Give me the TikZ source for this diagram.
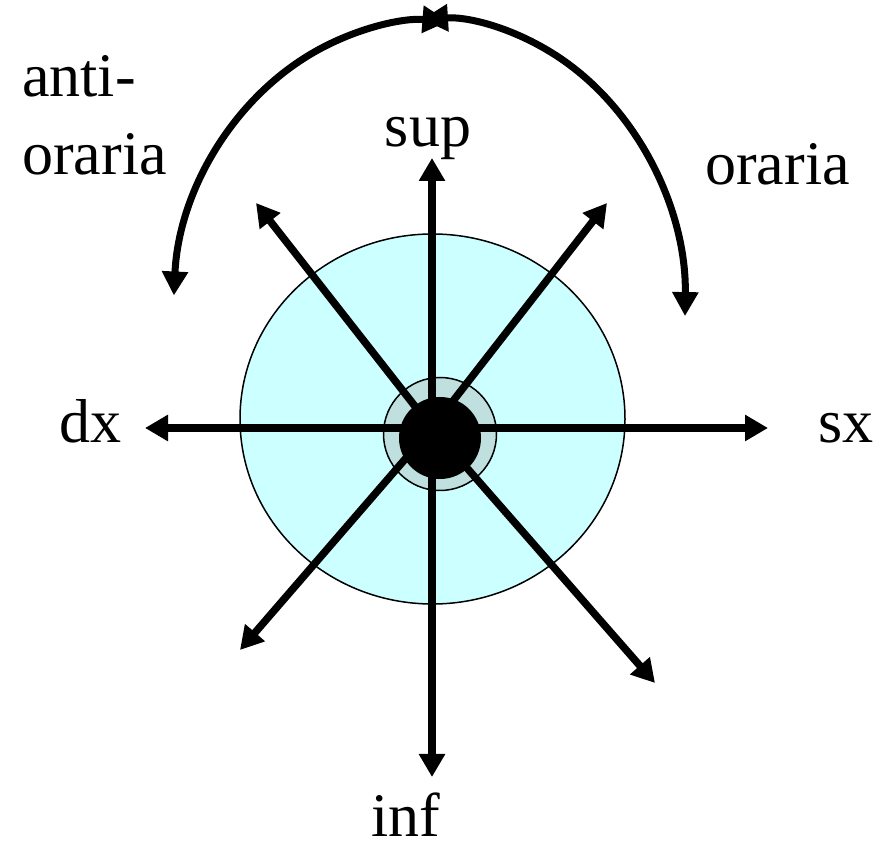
\documentclass[tikz,border=0pt]{standalone}
\usepackage{fontspec}
\setmainfont{Liberation Serif}
\usetikzlibrary{arrows.meta}
\definecolor{discfill}{HTML}{CCFFFF}
\definecolor{ringfill}{HTML}{C0E0E0}

\begin{document}
\begin{tikzpicture}[
    x=1pt, y=1pt,
    dir/.style={line width=7.5pt, -{Triangle[length=23pt,width=25pt]}},
    turn/.style={line width=7pt, {Triangle[length=24pt,width=25pt]}-{Triangle[length=26pt,width=26pt]}},
    lbl/.style={font=\fontsize{62}{76}\selectfont, inner sep=0pt}
]
\useasboundingbox (0,0) rectangle (875,848);

% Disc
\draw[line width=1.5pt, fill=discfill] (432.5,429) ellipse [x radius=192.5, y radius=185];
\draw[line width=1.5pt, fill=ringfill] (440,414) circle [radius=56.5];

% Directions
\coordinate (c) at (432,420);
\coordinate (up) at (432,690);
\coordinate (down) at (432,71);
\coordinate (left) at (145,420);
\coordinate (right) at (768,420);
\coordinate (ul) at (256,645);
\coordinate (ur) at (607,645);
\coordinate (dl) at (240,198);
\coordinate (dr) at (655,165);

\foreach \t in {up,down,left,right,ul,ur,dl,dr}
    \draw[dir] (c) -- (\t);

\node[circle, fill=black, inner sep=0pt, minimum size=82pt] (hub) at (440,410) {};

% Rotation
\coordinate (ccw) at (173.9,552.5);
\coordinate (cw) at (685.0,531.9);
\draw[turn] (ccw) arc[start angle=177, end angle=86, x radius=257, y radius=290];
\draw[turn] (cw) arc[start angle=-1, end angle=93, x radius=250, y radius=292];

% Labels
\node[lbl, anchor=base] (sup) at (428,701) {sup};
\node[lbl, anchor=base] (inf) at (406,11) {inf};
\node[lbl, anchor=base] (dx) at (90,405) {dx};
\node[lbl, anchor=base west] (sx) at (818,405) {sx};
\node[lbl, anchor=base west] (anti) at (22,751) {anti-};
\node[lbl, anchor=base west] (oraria1) at (22,673) {oraria};
\node[lbl, anchor=base west] (oraria2) at (705,663) {oraria};

\end{tikzpicture}
\end{document}
